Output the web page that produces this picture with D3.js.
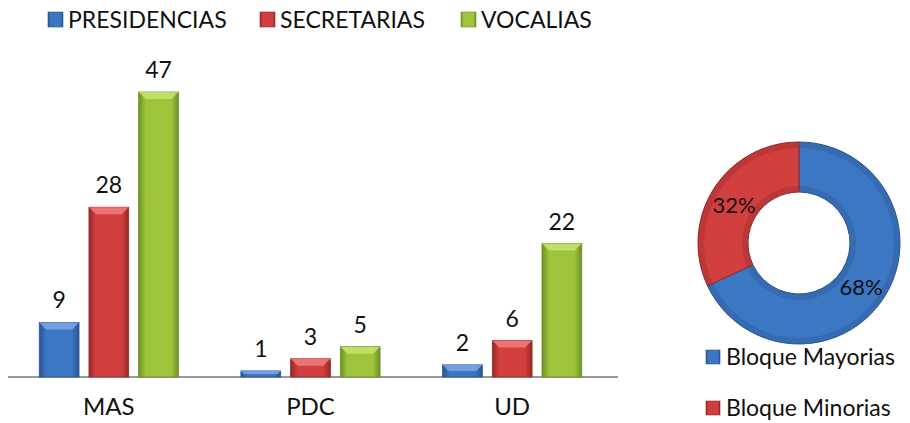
<!DOCTYPE html>
<html lang="es">
<head>
<meta charset="UTF-8">
<script src="https://d3js.org/d3.v7.min.js"></script>
<style>
  body { margin: 0; background: #fff; }
  svg { display: block; font-family: Lato, "Open Sans", sans-serif; }
</style>
</head>
<body>
<div id="chart"></div>
<script>
// datos
var partidos = ["MAS", "PDC", "UD"];
var series = ["PRESIDENCIAS", "SECRETARIAS", "VOCALIAS"];
var presidencias = [9, 1, 2];
var secretarias = [28, 3, 6];
var vocalias = [47, 5, 22];
var bloques = ["Bloque Mayorias", "Bloque Minorias"];
var bloquePct = [68, 32];

var colores = ["#3c77c4", "#d23f3f", "#9cc53b"];
var oscuros = ["#2a5590", "#962828", "#6e8f25"];
var claros = ["#7aa8e6", "#f07c7c", "#c6e46e"];

var W = 910, H = 423;
var svg = d3.select("#chart").append("svg").attr("width", W).attr("height", H);

// gradientes
var defs = svg.append("defs");
colores.forEach(function (c, i) {
    var g = defs.append("linearGradient").attr("id", "grad" + i)
        .attr("x1", "0").attr("x2", "1").attr("y1", "0").attr("y2", "0");
    g.append("stop").attr("offset", "0%").attr("stop-color", oscuros[i]);
    g.append("stop").attr("offset", "18%").attr("stop-color", c);
    g.append("stop").attr("offset", "82%").attr("stop-color", c);
    g.append("stop").attr("offset", "100%").attr("stop-color", oscuros[i]);
});

// barras
var valores = [presidencias, secretarias, vocalias];
var x0 = d3.scaleBand().domain(partidos).range([8, 613]).paddingInner(0.31).paddingOuter(0.155);
var x1 = d3.scaleBand().domain(series).range([0, x0.bandwidth()]).paddingInner(0.2);
var y = d3.scaleLinear().domain([0, 47]).range([377, 92]);

// eje
svg.append("line").attr("x1", 8).attr("x2", 618).attr("y1", y(0)).attr("y2", y(0))
    .attr("stroke", "#9a9a9a").attr("stroke-width", 2);
svg.append("g").attr("transform", "translate(0," + y(0) + ")")
    .call(d3.axisBottom(x0).tickSize(0).tickPadding(21))
    .call(function (a) {
        a.select(".domain").remove();
        a.selectAll("text").attr("font-size", 24).attr("fill", "#111").attr("font-family", "Lato, sans-serif");
    });

var g = svg.append("g");
partidos.forEach(function (p, pi) {
    series.forEach(function (s, si) {
        var v = valores[si][pi];
        var bx = x0(p) + x1(s), bw = x1.bandwidth();
        var by = y(v), bh = y(0) - y(v);
        g.append("rect").attr("x", bx).attr("y", by).attr("width", bw).attr("height", bh)
            .attr("fill", "url(#grad" + si + ")").attr("stroke", oscuros[si]).attr("stroke-width", 0.8);
        // bisel superior
        var b = Math.min(7, bh / 2);
        g.append("path")
            .attr("d", "M" + bx + "," + by + "L" + (bx + bw) + "," + by + "L" + (bx + bw - b) + "," + (by + b) +
                "L" + (bx + b) + "," + (by + b) + "Z")
            .attr("fill", claros[si]).attr("opacity", 0.85);
        g.append("text").attr("x", bx + bw / 2).attr("y", by - 14)
            .attr("text-anchor", "middle").attr("font-size", 23).attr("fill", "#111").text(v);
    });
});

// leyenda barras
var legX = [48, 260, 461];
series.forEach(function (s, i) {
    var lg = svg.append("g").attr("transform", "translate(" + legX[i] + ",12)");
    lg.append("rect").attr("width", 15).attr("height", 15).attr("fill", "url(#grad" + i + ")")
        .attr("stroke", oscuros[i]).attr("stroke-width", 0.6);
    lg.append("text").attr("x", 20).attr("y", 8).attr("dy", "0.35em")
        .attr("font-size", 23).attr("fill", "#111").text(s);
});

// dona
var cx = 799, cy = 243;
var pie = d3.pie().sort(null).value(function (d) { return d; });
var arc = d3.arc().innerRadius(51).outerRadius(101);
var dcol = [colores[0], colores[1]];
var dg = svg.append("g").attr("transform", "translate(" + cx + "," + cy + ")");
var arcs = pie(bloquePct);
dg.selectAll("path").data(arcs).enter().append("path")
    .attr("d", arc).attr("fill", function (d, i) { return dcol[i]; })
    .attr("stroke", function (d, i) { return oscuros[i]; }).attr("stroke-width", 1);
// sombreado de bordes
var shade = d3.arc().innerRadius(51).outerRadius(57);
var shade2 = d3.arc().innerRadius(95).outerRadius(101);
dg.selectAll(".s1").data(arcs).enter().append("path").attr("d", shade)
    .attr("fill", function (d, i) { return oscuros[i]; }).attr("opacity", 0.35);
dg.selectAll(".s2").data(arcs).enter().append("path").attr("d", shade2)
    .attr("fill", function (d, i) { return oscuros[i]; }).attr("opacity", 0.35);

var labPos = [[62, 44], [-65, -38]];
arcs.forEach(function (d, i) {
    dg.append("text").attr("x", labPos[i][0]).attr("y", labPos[i][1]).attr("dy", "0.35em")
        .attr("text-anchor", "middle").attr("font-size", 22).attr("fill", "#111")
        .text(bloquePct[i] + "%");
});

// leyenda dona
var legY = [357, 408];
bloques.forEach(function (b, i) {
    var lg = svg.append("g").attr("transform", "translate(706," + legY[i] + ")");
    lg.append("rect").attr("y", -7).attr("width", 14).attr("height", 14).attr("fill", "url(#grad" + i + ")")
        .attr("stroke", oscuros[i]).attr("stroke-width", 0.6);
    lg.append("text").attr("x", 20).attr("dy", "0.35em").attr("font-size", 23).attr("fill", "#111").text(b);
});
</script>
</body>
</html>
